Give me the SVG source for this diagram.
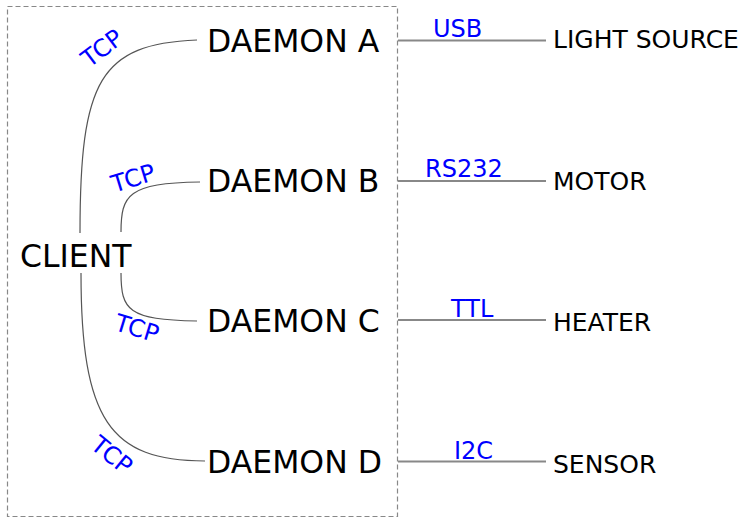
<svg xmlns="http://www.w3.org/2000/svg" width="740" height="518" viewBox="0 0 740 518">
<style>
.node{font-family:"DejaVu Sans",sans-serif;font-size:31.5px;fill:#000}
.dev{font-family:"DejaVu Sans",sans-serif;font-size:25px;fill:#000}
.lbl{font-family:"DejaVu Sans",sans-serif;font-size:24px;fill:#0000ff}
.conn{fill:none;stroke:#555;stroke-width:1.2}
.bus{fill:none;stroke:#888;stroke-width:2}
</style>
<rect width="740" height="518" fill="#fff"/>
<rect x="7.5" y="6.5" width="390" height="510" fill="none" stroke="#888" stroke-width="1.2" stroke-dasharray="5,3"/>
<g id="connectors">
<path class="conn" d="M80,233 C80,80 100,44 197,40"/>
<path class="conn" d="M121,232 C121,195 128,183 200,182"/>
<path class="conn" d="M121,273 C121,310 128,320 197,321"/>
<path class="conn" d="M81,273 C81,420 110,461 205,461"/>
<path class="bus" d="M398,40.5 H546"/>
<path class="bus" d="M398,181 H546"/>
<path class="bus" d="M398,320 H546"/>
<path class="bus" d="M398,461.5 H546"/>
<text class="lbl" text-anchor="middle" transform="translate(102,48) rotate(-37)" y="8.5">TCP</text>
<text class="lbl" text-anchor="middle" transform="translate(133,178) rotate(-17)" y="8.5">TCP</text>
<text class="lbl" text-anchor="middle" transform="translate(137,328) rotate(17)" y="8.5">TCP</text>
<text class="lbl" text-anchor="middle" transform="translate(112,455) rotate(39)" y="8.5">TCP</text>
<text class="lbl" x="433" y="37">USB</text>
<text class="lbl" x="425" y="177">RS232</text>
<text class="lbl" x="451" y="317">TTL</text>
<text class="lbl" x="454" y="459">I2C</text>
</g>
<g id="client"><text class="node" x="20" y="267">CLIENT</text></g>
<g id="daemon-a"><text class="node" x="207" y="52">DAEMON A</text></g>
<g id="daemon-b"><text class="node" x="207" y="192">DAEMON B</text></g>
<g id="daemon-c"><text class="node" x="207" y="332">DAEMON C</text></g>
<g id="daemon-d"><text class="node" x="207" y="473">DAEMON D</text></g>
<g id="light-source"><text class="dev" x="553" y="48">LIGHT SOURCE</text></g>
<g id="motor"><text class="dev" x="553" y="190">MOTOR</text></g>
<g id="heater"><text class="dev" x="553" y="331">HEATER</text></g>
<g id="sensor"><text class="dev" x="553" y="473">SENSOR</text></g>
</svg>
